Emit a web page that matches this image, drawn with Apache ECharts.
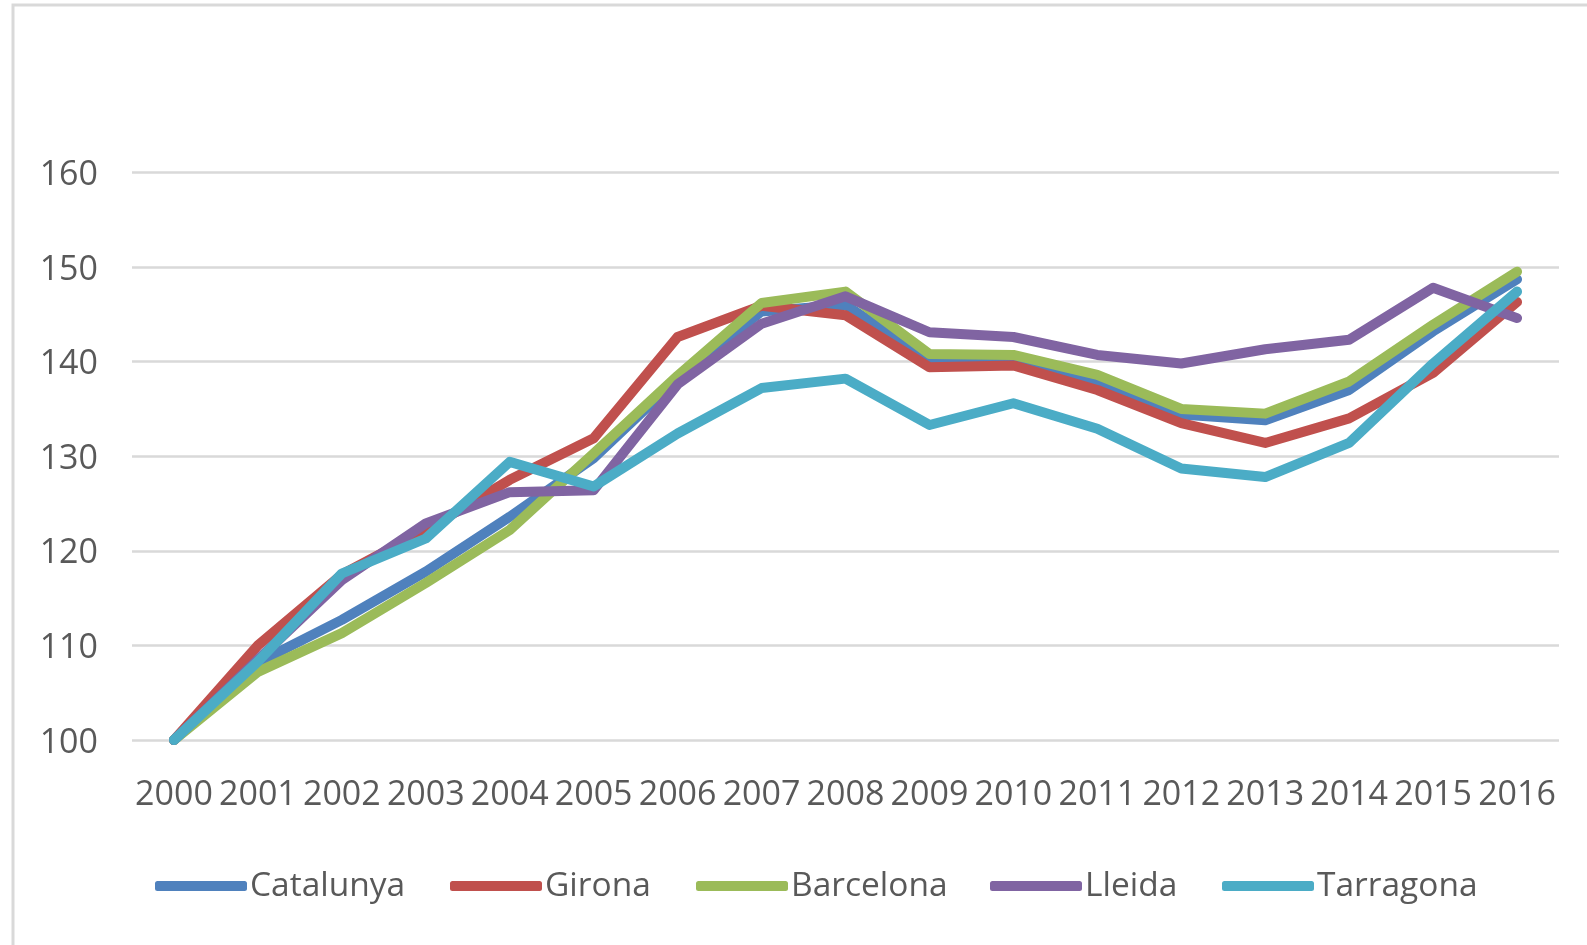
<!DOCTYPE html>
<html>
<head>
<meta charset="utf-8">
<script src="https://cdn.jsdelivr.net/npm/echarts@6/dist/echarts.min.js"></script>
<style>
html,body{margin:0;padding:0;background:#fff;}
#chart{width:1587px;height:945px;}
</style>
</head>
<body>
<div id="chart"></div>
<script>
const years = ['2000','2001','2002','2003','2004','2005','2006','2007','2008','2009','2010','2011','2012','2013','2014','2015','2016'];
const catalunya = [100, 108.2, 112.7, 117.8, 123.6, 129.8, 138.2, 145.3, 146.0, 140.1, 140.0, 137.9, 134.4, 133.8, 137.0, 143.2, 148.7];
const girona    = [100, 110.0, 117.5, 122.2, 127.5, 131.9, 142.6, 145.9, 144.9, 139.4, 139.6, 137.0, 133.5, 131.4, 134.0, 138.8, 146.3];
const barcelona = [100, 107.2, 111.3, 116.6, 122.2, 130.3, 138.5, 146.2, 147.4, 140.8, 140.7, 138.6, 135.0, 134.5, 137.9, 143.9, 149.5];
const lleida    = [100, 108.5, 116.9, 122.9, 126.2, 126.4, 137.6, 144.0, 146.9, 143.1, 142.6, 140.7, 139.8, 141.3, 142.3, 147.8, 144.6];
const tarragona = [100, 108.3, 117.6, 121.3, 129.4, 126.8, 132.4, 137.2, 138.2, 133.3, 135.6, 132.9, 128.7, 127.8, 131.4, 139.8, 147.4];
const seriesNames = ['Catalunya','Girona','Barcelona','Lleida','Tarragona'];
const seriesData = [catalunya, girona, barcelona, lleida, tarragona];
const colors = ['#4F81BD','#C0504D','#9BBB59','#8064A2','#4BACC6'];
const legendLefts = [155, 450, 696, 990, 1222];

const FONT = '"Open Sans", "Noto Sans", sans-serif';
const TEXT = '#595959';

const chart = echarts.init(document.getElementById('chart'), null, {renderer:'canvas'});
const option = {
  backgroundColor: '#ffffff',
  animation: false,
  color: colors,
  graphic: [{
    type: 'rect',
    shape: {x: 13, y: 5, width: 1600, height: 1000},
    style: {fill: 'none', stroke: '#D9D9D9', lineWidth: 3},
    silent: true, z: 0
  }],
  grid: {left: 132, right: 28, top: 172.4, bottom: 205, containLabel: false},
  xAxis: {
    type: 'category',
    data: years,
    boundaryGap: true,
    axisLine: {show: false},
    axisTick: {show: false},
    axisLabel: {interval: 0, margin: 38, color: TEXT, fontFamily: FONT, fontSize: 34}
  },
  yAxis: {
    type: 'value',
    min: 100, max: 160, interval: 10,
    axisLine: {show: false},
    axisTick: {show: false},
    splitLine: {lineStyle: {color: '#D9D9D9', width: 2.5}},
    axisLabel: {
      margin: 34,
      formatter: '{v|{value}}',
      rich: {v: {color: TEXT, fontFamily: FONT, fontSize: 34, padding: [6, 0, 0, 0]}}
    }
  },
  legend: seriesNames.map((n, i) => ({
    data: [n],
    left: legendLefts[i],
    top: 869,
    padding: 0,
    icon: 'roundRect',
    itemWidth: 92,
    itemHeight: 10,
    textStyle: {color: TEXT, fontFamily: FONT, fontSize: 33.5, padding: [0,0,0,-2]}
  })),
  series: seriesNames.map((n, i) => ({
    name: n,
    type: 'line',
    data: seriesData[i],
    symbol: 'none',
    lineStyle: {width: 10, color: colors[i], cap: 'round', join: 'round'},
    itemStyle: {color: colors[i]}
  }))
};
chart.setOption(option);
</script>
</body>
</html>
